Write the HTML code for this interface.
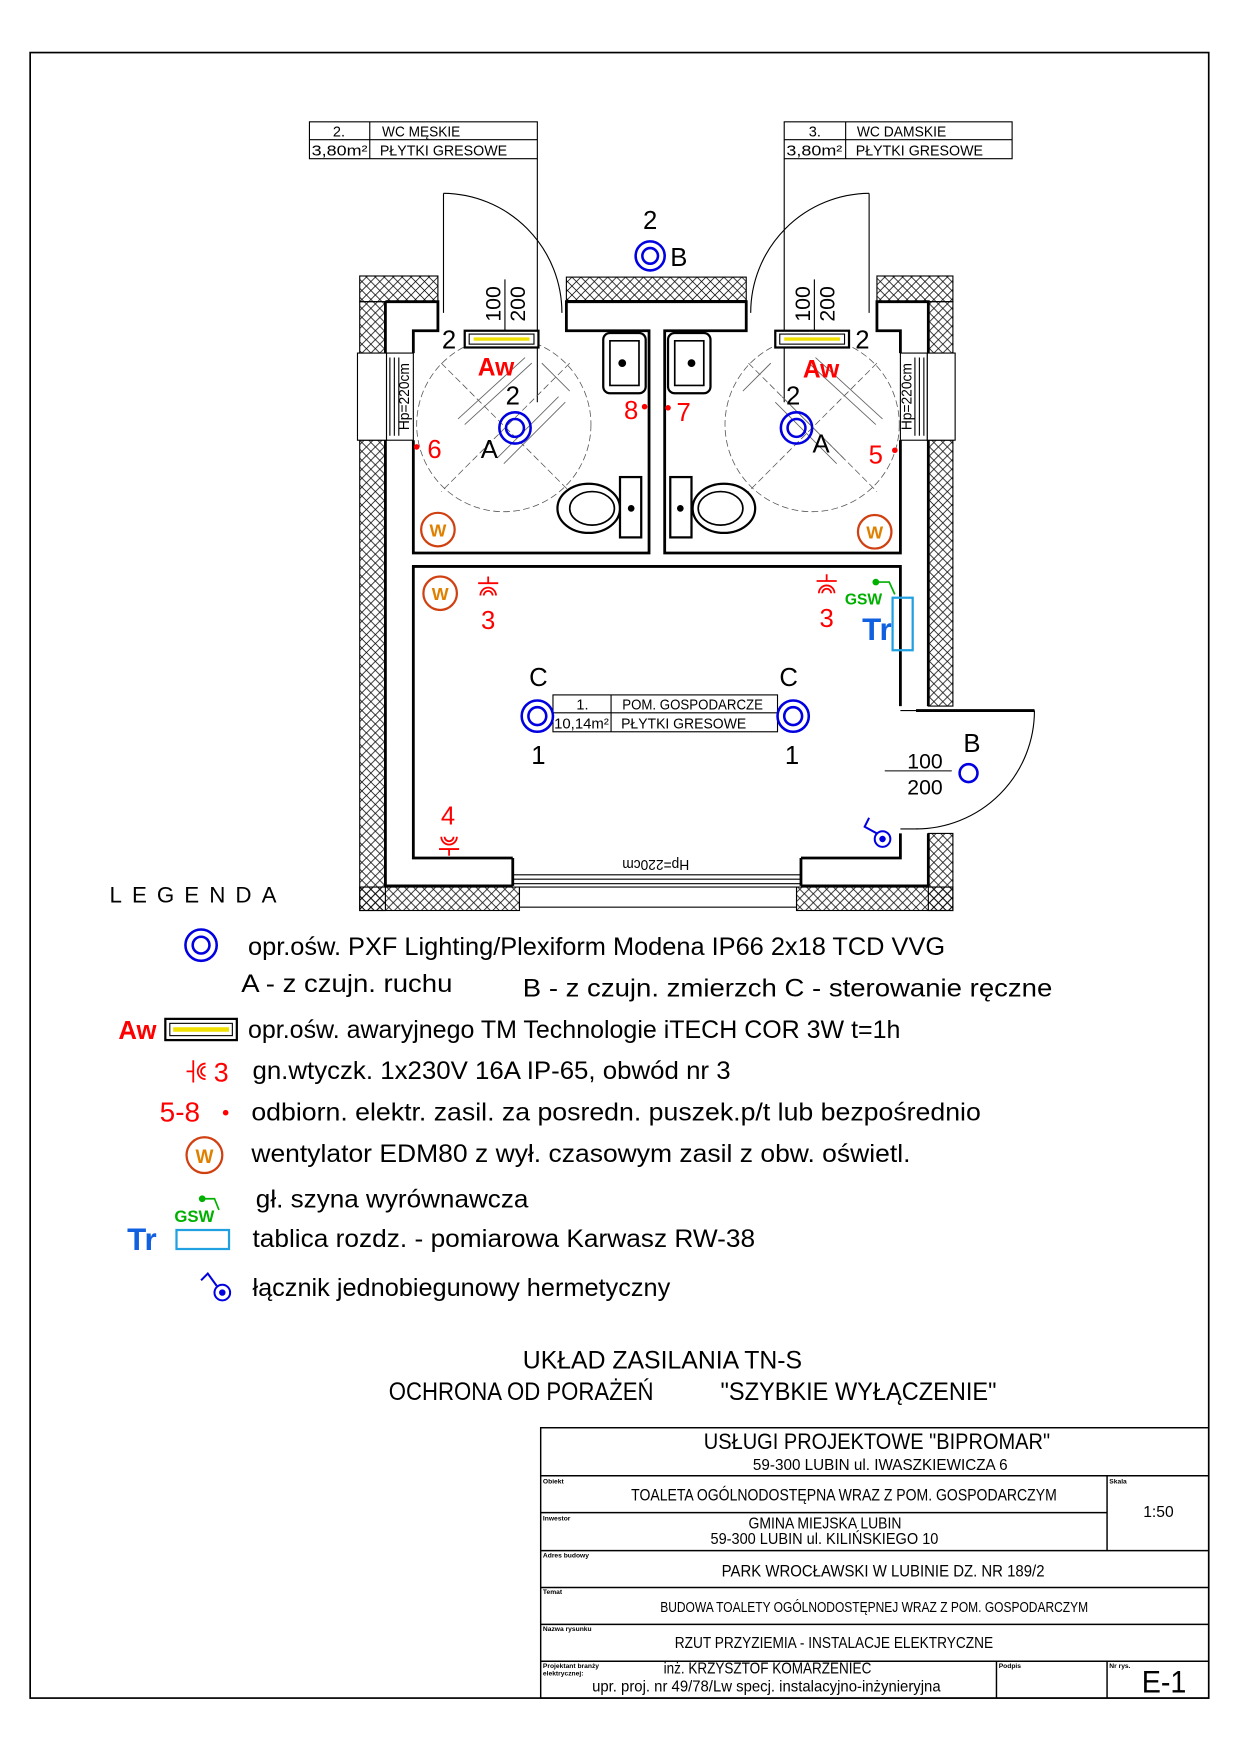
<!DOCTYPE html>
<html><head><meta charset="utf-8"><style>
html,body{margin:0;padding:0;background:#fff}
svg{display:block}
text{font-family:"Liberation Sans Narrow","Liberation Sans",sans-serif}
</style></head><body>
<svg width="1240" height="1754" viewBox="0 0 1110 1570" xmlns="http://www.w3.org/2000/svg">
<defs>
<pattern id="h" width="8" height="8" patternUnits="userSpaceOnUse">
<path d="M0,0 L8,8 M8,0 L0,8" stroke="#000" stroke-width="0.7" fill="none"/>
</pattern>
</defs>
<rect x="27" y="47" width="1055" height="1473" fill="none" stroke="#000" stroke-width="1.5"/>

<!-- hatch strips -->
<g stroke="#000" stroke-width="1">
<rect x="322" y="247" width="70" height="23" fill="url(#h)"/>
<rect x="322" y="270" width="23" height="46" fill="url(#h)"/>
<rect x="322" y="394" width="23" height="421" fill="url(#h)"/>
<rect x="507" y="248" width="161" height="21" fill="url(#h)"/>
<rect x="785" y="247" width="68" height="23" fill="url(#h)"/>
<rect x="831" y="270" width="22" height="46" fill="url(#h)"/>
<rect x="831" y="394" width="22" height="238" fill="url(#h)"/>
<rect x="831" y="746" width="22" height="69" fill="url(#h)"/>
<rect x="322" y="794" width="143" height="21" fill="url(#h)"/>
<rect x="713" y="794" width="140" height="21" fill="url(#h)"/>
</g>
<!-- side windows -->
<g fill="#fff" stroke="#000" stroke-width="1">
<rect x="320" y="316" width="26" height="78"/>
<rect x="346" y="316" width="24" height="78"/>
<rect x="830" y="316" width="25" height="78"/>
<rect x="806" y="316" width="24" height="78"/>
<path d="M349,320 V390 M353,320 V390 M357,320 V390 M819,320 V390 M823,320 V390 M827,320 V390" fill="none"/>
<rect x="465" y="794" width="248" height="18"/>
</g>
<text transform="translate(366,355) rotate(-90)" font-size="13" text-anchor="middle" textLength="60" lengthAdjust="spacingAndGlyphs">Hp=220cm</text>
<text transform="translate(816,355) rotate(-90)" font-size="13" text-anchor="middle" textLength="60" lengthAdjust="spacingAndGlyphs">Hp=220cm</text>

<!-- walls -->
<g fill="none" stroke="#000" stroke-width="2.5">
<path d="M345,270 V316 M345,394 V793 H459"/>
<path d="M345,270 H392 V296 H370 V316 M370,394 V495 H581 V296 H507 V270 H668 V296 H595 V495 H806 V394 M806,316 V296 H785 V270 H831 V316 M831,394 V632"/>
<path d="M806,632 V507 H370 V768 H459 M717,768 H806 V746 M717,793 H831 V746"/>
<path d="M459,768 V793 M717,768 V793"/>
</g>
<g fill="none" stroke="#000" stroke-width="1">
<path d="M459,783 H717 M459,787 H717 M459,791 H717"/>
<path d="M397,280 V173 M778,280 V173"/>
<path d="M397,173 A107,107 0 0 1 503,280"/>
<path d="M778,173 A107,107 0 0 0 672,280"/>
<path d="M820,636 H926" stroke-width="2.5"/>
<path d="M926,636 A106,106 0 0 1 820,742"/>
<path d="M806,636 H822 M806,742 H822"/>
</g>
<text transform="translate(587,770) rotate(180)" font-size="13" text-anchor="middle" textLength="60" lengthAdjust="spacingAndGlyphs">Hp=220cm</text>

<!-- room labels -->
<g fill="none" stroke="#000" stroke-width="1">
<rect x="277" y="109" width="204" height="33"/><path d="M277,125 H481 M331,109 V142 M481,142 V360"/>
<rect x="702" y="109" width="204" height="33"/><path d="M702,125 H906 M757,109 V142 M702,142 V360"/>
<rect x="495" y="622" width="201" height="33"/><path d="M495,638 H696 M547,622 V655"/>
<path d="M452,250 V300 M729,250 V300 M792,690 H852"/>
</g>
<g font-size="13">
<text x="298" y="122">2.</text><text x="342" y="122" textLength="70" lengthAdjust="spacingAndGlyphs">WC MĘSKIE</text>
<text x="279" y="139" textLength="50" lengthAdjust="spacingAndGlyphs">3,80m²</text><text x="340" y="139" textLength="114" lengthAdjust="spacingAndGlyphs">PŁYTKI GRESOWE</text>
<text x="724" y="122">3.</text><text x="767" y="122" textLength="80" lengthAdjust="spacingAndGlyphs">WC DAMSKIE</text>
<text x="704" y="139" textLength="50" lengthAdjust="spacingAndGlyphs">3,80m²</text><text x="766" y="139" textLength="114" lengthAdjust="spacingAndGlyphs">PŁYTKI GRESOWE</text>
<text x="516" y="635">1.</text><text x="557" y="635" textLength="126" lengthAdjust="spacingAndGlyphs">POM. GOSPODARCZE</text>
<text x="496" y="652" textLength="49" lengthAdjust="spacingAndGlyphs">10,14m²</text><text x="556" y="652" textLength="112" lengthAdjust="spacingAndGlyphs">PŁYTKI GRESOWE</text>
</g>
<g font-size="19">
<text transform="translate(448,272) rotate(-90)" text-anchor="middle">100</text>
<text transform="translate(470,272) rotate(-90)" text-anchor="middle">200</text>
<text transform="translate(725,272) rotate(-90)" text-anchor="middle">100</text>
<text transform="translate(747,272) rotate(-90)" text-anchor="middle">200</text>
<text x="828" y="688" text-anchor="middle">100</text>
<text x="828" y="711" text-anchor="middle">200</text>
</g>

<!-- turning circles and wheelchair hints -->
<g fill="none" stroke="#555" stroke-width="0.7" stroke-dasharray="6,3">
<circle cx="451" cy="380" r="78"/><circle cx="727" cy="380" r="78"/>
<path d="M395,325 L510,440 M510,325 L395,440 M670,325 L785,440 M785,325 L670,440"/>
</g>
<g fill="none" stroke="#666" stroke-width="0.8">
<path d="M410,375 L470,320 M416,380 L476,325 M445,410 L500,355 M451,415 L506,360 M485,325 L510,350 M790,375 L730,320 M784,380 L724,325 M755,410 L700,355 M749,415 L694,360 M690,325 L665,350"/>
</g>

<!-- sinks and toilets -->
<g fill="#fff" stroke="#000" stroke-width="2">
<rect x="540" y="298" width="38" height="54" rx="6"/>
<path d="M546,305 H572 V345 H546 Z" stroke-width="1.5"/>
<circle cx="557" cy="325" r="2.5" fill="#000"/>
<rect x="598" y="298" width="38" height="54" rx="6"/>
<path d="M604,305 H630 V345 H604 Z" stroke-width="1.5"/>
<circle cx="619" cy="325" r="2.5" fill="#000"/>
<ellipse cx="527" cy="455" rx="28" ry="22"/><ellipse cx="530" cy="455" rx="20" ry="15" stroke-width="1.5"/>
<rect x="555" y="427" width="19" height="54"/><circle cx="565" cy="455" r="2" fill="#000"/>
<ellipse cx="648" cy="455" rx="28" ry="22"/><ellipse cx="645" cy="455" rx="20" ry="15" stroke-width="1.5"/>
<rect x="600" y="427" width="19" height="54"/><circle cx="609" cy="455" r="2" fill="#000"/>
</g>

<!-- emergency lights -->
<g>
<rect x="416" y="296" width="66" height="15" fill="#fff" stroke="#000" stroke-width="2"/>
<rect x="420" y="299" width="58" height="9" fill="none" stroke="#000" stroke-width="1"/>
<path d="M424,303.5 H474" stroke="#f0e000" stroke-width="3"/>
<rect x="694" y="296" width="66" height="15" fill="#fff" stroke="#000" stroke-width="2"/>
<rect x="698" y="299" width="58" height="9" fill="none" stroke="#000" stroke-width="1"/>
<path d="M702,303.5 H752" stroke="#f0e000" stroke-width="3"/>
</g>

<!-- lights -->
<g fill="none" stroke="#0000e0" stroke-width="2.3">
<circle cx="582" cy="229" r="13"/><circle cx="582" cy="229" r="7"/>
<circle cx="461" cy="383" r="14"/><circle cx="461" cy="383" r="8"/>
<circle cx="713" cy="383" r="14"/><circle cx="713" cy="383" r="8"/>
<circle cx="481" cy="641" r="14"/><circle cx="481" cy="641" r="8"/>
<circle cx="710" cy="641" r="14"/><circle cx="710" cy="641" r="8"/>
<circle cx="867" cy="692" r="8"/>
</g>
<g font-size="23">
<text x="582" y="205" text-anchor="middle">2</text><text x="600" y="238">B</text>
<text x="402" y="312" text-anchor="middle">2</text><text x="459" y="362" text-anchor="middle">2</text><text x="438" y="410" text-anchor="middle">A</text>
<text x="772" y="312" text-anchor="middle">2</text><text x="710" y="362" text-anchor="middle">2</text><text x="735" y="405" text-anchor="middle">A</text>
<text x="482" y="614" text-anchor="middle">C</text><text x="706" y="614" text-anchor="middle">C</text>
<text x="482" y="684" text-anchor="middle">1</text><text x="709" y="684" text-anchor="middle">1</text>
<text x="870" y="673" text-anchor="middle">B</text>
</g>
<g fill="#ff0000" font-weight="bold" font-family="Liberation Sans">
<text x="444" y="336" font-size="22" text-anchor="middle" style="font-family:'Liberation Sans',sans-serif">Aw</text>
<text x="735" y="338" font-size="22" text-anchor="middle" style="font-family:'Liberation Sans',sans-serif">Aw</text>
</g>
<g fill="#ff0000" font-size="23">
<text x="389" y="410" text-anchor="middle">6</text><circle cx="373" cy="400" r="2.5"/>
<text x="784" y="415" text-anchor="middle">5</text><circle cx="801" cy="403" r="2.5"/>
<text x="565" y="375" text-anchor="middle">8</text><circle cx="577" cy="364" r="2.5"/>
<text x="612" y="377" text-anchor="middle">7</text><circle cx="598" cy="365" r="2.5"/>
<text x="437" y="563" text-anchor="middle">3</text>
<text x="740" y="561" text-anchor="middle">3</text>
<text x="401" y="738" text-anchor="middle">4</text>
</g>
<!-- sockets -->
<g fill="none" stroke="#ff0000" stroke-width="1.6">
<path d="M428,522 H446 M437,516 V522 M430,533 A7,7 0 0 1 444,533 M433,533 A4,4 0 0 1 441,533"/>
<path d="M731,520 H749 M740,514 V520 M733,531 A7,7 0 0 1 747,531 M736,531 A4,4 0 0 1 744,531"/>
<path d="M393,760 H411 M402,760 V766 M395,749 A7,7 0 0 0 409,749 M398,749 A4,4 0 0 0 406,749"/>
</g>
<!-- fans -->
<g fill="none" stroke="#d04010" stroke-width="2">
<circle cx="392" cy="474" r="15"/><circle cx="783" cy="476" r="15"/><circle cx="394" cy="531" r="15"/>
</g>
<g fill="#e08000" font-size="16" font-weight="bold" text-anchor="middle">
<text x="392" y="480">W</text><text x="783" y="482">W</text><text x="394" y="537">W</text>
</g>
<!-- GSW / Tr -->
<path d="M784,521 H796 L801,532" fill="none" stroke="#00b000" stroke-width="1.5"/><circle cx="784" cy="521" r="3" fill="#00b000"/>
<text x="773" y="541" fill="#00b000" font-size="14" font-weight="bold" text-anchor="middle" style="font-family:'Liberation Sans',sans-serif">GSW</text>
<text x="785" y="573" fill="#1060e0" font-size="28" font-weight="bold" text-anchor="middle" style="font-family:'Liberation Sans',sans-serif">Tr</text>
<rect x="799" y="535" width="18" height="47" fill="none" stroke="#20a0e0" stroke-width="2"/>
<!-- switch -->
<g fill="none" stroke="#0000e0" stroke-width="1.8">
<circle cx="790" cy="751" r="7"/><circle cx="790" cy="751" r="2" fill="#0000e0"/>
<path d="M785,746 L774,740 L778,732"/>
</g>

<!-- LEGEND -->
<text x="98" y="808" font-size="20" letter-spacing="9">LEGENDA</text>
<g fill="none" stroke="#0000e0" stroke-width="2.3"><circle cx="180" cy="846" r="14"/><circle cx="180" cy="846" r="7.5"/></g>
<g font-size="22" lengthAdjust="spacingAndGlyphs">
<text x="222" y="855" textLength="624" lengthAdjust="spacingAndGlyphs">opr.ośw. PXF Lighting/Plexiform Modena IP66 2x18 TCD VVG</text>
<text x="216" y="888" textLength="189" lengthAdjust="spacingAndGlyphs">A - z czujn. ruchu</text>
<text x="468" y="892" textLength="474" lengthAdjust="spacingAndGlyphs">B - z czujn. zmierzch  C - sterowanie ręczne</text>
<text x="222" y="929" textLength="584" lengthAdjust="spacingAndGlyphs">opr.ośw. awaryjnego TM Technologie iTECH COR 3W t=1h</text>
<text x="226" y="966" textLength="428" lengthAdjust="spacingAndGlyphs">gn.wtyczk. 1x230V 16A IP-65, obwód nr 3</text>
<text x="225" y="1003" textLength="653" lengthAdjust="spacingAndGlyphs">odbiorn. elektr. zasil. za posredn. puszek.p/t lub bezpośrednio</text>
<text x="225" y="1040" textLength="590" lengthAdjust="spacingAndGlyphs">wentylator EDM80 z wył. czasowym zasil z obw. oświetl.</text>
<text x="229" y="1081" textLength="244" lengthAdjust="spacingAndGlyphs">gł. szyna wyrównawcza</text>
<text x="226" y="1116" textLength="450" lengthAdjust="spacingAndGlyphs">tablica rozdz. - pomiarowa Karwasz RW-38</text>
<text x="226" y="1160" textLength="374" lengthAdjust="spacingAndGlyphs">łącznik jednobiegunowy hermetyczny</text>
</g>
<text x="123" y="930" fill="#ff0000" font-size="23" font-weight="bold" text-anchor="middle" style="font-family:'Liberation Sans',sans-serif">Aw</text>
<rect x="148" y="912" width="64" height="19" fill="#fff" stroke="#000" stroke-width="2"/>
<rect x="152" y="916" width="56" height="11" fill="none" stroke="#000" stroke-width="1"/>
<path d="M155,921.5 H205" stroke="#f0e000" stroke-width="4"/>
<g fill="none" stroke="#ff0000" stroke-width="1.6"><path d="M173,949 V969 M173,959 H167 M184,952 A7,7 0 0 0 184,966 M184,955 A4,4 0 0 0 184,963"/></g>
<text x="198" y="968" fill="#ff0000" font-size="24" text-anchor="middle">3</text>
<text x="161" y="1004" fill="#ff0000" font-size="25" text-anchor="middle">5-8</text>
<circle cx="202" cy="996" r="2.5" fill="#ff0000"/>
<circle cx="183" cy="1034" r="16" fill="none" stroke="#d04010" stroke-width="2"/>
<text x="183" y="1041" fill="#e08000" font-size="17" font-weight="bold" text-anchor="middle">W</text>
<path d="M181,1073 H192 L196,1083" fill="none" stroke="#00b000" stroke-width="1.5"/><circle cx="181" cy="1073" r="3" fill="#00b000"/>
<text x="174" y="1094" fill="#00b000" font-size="15" font-weight="bold" text-anchor="middle" style="font-family:'Liberation Sans',sans-serif">GSW</text>
<text x="127" y="1119" fill="#1060e0" font-size="28" font-weight="bold" text-anchor="middle" style="font-family:'Liberation Sans',sans-serif">Tr</text>
<rect x="158" y="1101" width="47" height="17" fill="none" stroke="#20a0e0" stroke-width="2"/>
<g fill="none" stroke="#0000e0" stroke-width="1.8"><circle cx="199" cy="1157" r="7"/><circle cx="199" cy="1157" r="2" fill="#0000e0"/><path d="M194,1151 L186,1140 L180,1146"/></g>

<g font-size="22">
<text x="468" y="1225" textLength="250" lengthAdjust="spacingAndGlyphs">UKŁAD ZASILANIA TN-S</text>
<text x="348" y="1253" textLength="237" lengthAdjust="spacingAndGlyphs">OCHRONA OD PORAŻEŃ</text>
<text x="645" y="1253" textLength="247" lengthAdjust="spacingAndGlyphs">"SZYBKIE WYŁĄCZENIE"</text>
</g>

<!-- title block -->
<g fill="none" stroke="#000" stroke-width="1.3">
<rect x="484" y="1278" width="598" height="242"/>
<path d="M484,1321 H1082 M484,1354 H991 M484,1388 H1082 M484,1421 H1082 M484,1454 H1082 M484,1487 H1082 M991,1321 V1388 M892,1487 V1520 M991,1487 V1520"/>
</g>
<g font-size="6" font-weight="bold" style="font-family:'Liberation Sans',sans-serif">
<text x="486" y="1328">Obiekt</text><text x="993" y="1328">Skala</text><text x="486" y="1361">Inwestor</text>
<text x="486" y="1394">Adres budowy</text><text x="486" y="1427">Temat</text><text x="486" y="1460">Nazwa rysunku</text>
<text x="486" y="1493">Projektant branży</text><text x="486" y="1500">elektrycznej:</text>
<text x="894" y="1493">Podpis</text><text x="993" y="1493">Nr rys.</text>
</g>
<g>
<text x="630" y="1297" font-size="20" textLength="310" lengthAdjust="spacingAndGlyphs">USŁUGI PROJEKTOWE "BIPROMAR"</text>
<text x="674" y="1316" font-size="14" textLength="228" lengthAdjust="spacingAndGlyphs">59-300 LUBIN ul. IWASZKIEWICZA 6</text>
<text x="565" y="1343" font-size="15" textLength="381" lengthAdjust="spacingAndGlyphs">TOALETA OGÓLNODOSTĘPNA WRAZ Z POM. GOSPODARCZYM</text>
<text x="1037" y="1358" font-size="14" text-anchor="middle">1:50</text>
<text x="670" y="1368" font-size="14" textLength="137" lengthAdjust="spacingAndGlyphs">GMINA MIEJSKA LUBIN</text>
<text x="636" y="1382" font-size="14" textLength="204" lengthAdjust="spacingAndGlyphs">59-300 LUBIN ul. KILIŃSKIEGO 10</text>
<text x="646" y="1411" font-size="15" textLength="289" lengthAdjust="spacingAndGlyphs">PARK WROCŁAWSKI W LUBINIE DZ. NR 189/2</text>
<text x="591" y="1443" font-size="13" textLength="383" lengthAdjust="spacingAndGlyphs">BUDOWA TOALETY OGÓLNODOSTĘPNEJ WRAZ Z POM. GOSPODARCZYM</text>
<text x="604" y="1475" font-size="14" textLength="285" lengthAdjust="spacingAndGlyphs">RZUT PRZYZIEMIA - INSTALACJE ELEKTRYCZNE</text>
<text x="594" y="1498" font-size="14" textLength="186" lengthAdjust="spacingAndGlyphs">inż. KRZYSZTOF KOMARZENIEC</text>
<text x="530" y="1514" font-size="14" textLength="312" lengthAdjust="spacingAndGlyphs">upr. proj. nr 49/78/Lw specj. instalacyjno-inżynieryjna</text>
<text x="1022" y="1515" font-size="28" textLength="40" lengthAdjust="spacingAndGlyphs">E-1</text>
</g>
</svg>
</body></html>
